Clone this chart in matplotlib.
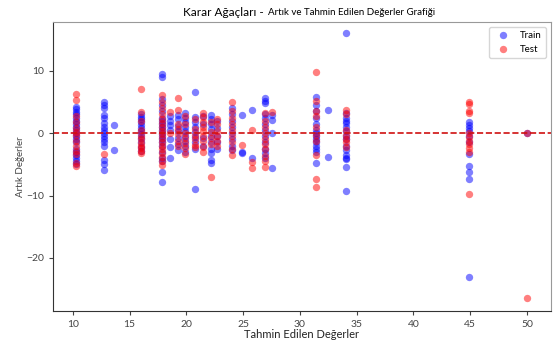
import matplotlib.pyplot as plt

plt.rcParams["font.family"] = ["Lato", "DejaVu Sans"]

# predicted value levels (x) and residuals at each level
train_levels = [10.26, 12.73, 13.6, 16.0, 17.84, 18.55, 19.25, 19.87, 20.75,
                21.45, 22.16, 22.7, 24.0, 24.9, 25.8, 26.9, 27.5, 31.4,
                32.47, 34.05, 44.9, 50.0]
train_resid = [
    [4.2, 3.8, 3.4, 3.0, 2.5, 2.0, 1.5, 1.0, 0.5, 0.0, -0.5, -1.0, -1.5, -2.5,
     -3.0, -3.5, -4.0, -4.5, -5.0],
    [5.0, 4.5, 4.0, 2.9, 2.4, 1.6, 1.0, 0.5, 0.0, -0.4, -0.9, -1.4, -2.0, -4.3,
     -5.0, -5.9],
    [1.3, -2.7],
    [3.0, 2.6, 2.2, 1.8, 1.3, 0.8, 0.3, -0.2, -0.8, -1.5, -2.2, -2.9],
    [9.5, 9.0, 5.5, 4.5, 3.5, 2.5, 2.0, 1.5, 1.0, 0.5, 0.0, -0.5, -1.0, -1.5,
     -2.0, -3.0, -4.0, -4.5, -6.3, -7.8],
    [2.7, 2.0, 1.3, 0.5, -1.0, -2.2, -4.0],
    [2.9, 2.2, 1.2, 0.3, -0.8, -1.8, -2.7],
    [3.2, 2.5, 1.8, 1.0, 0.3, -0.4, -1.2, -2.0, -3.0],
    [6.6, 2.6, 1.8, 1.0, 0.2, -0.6, -1.5, -2.5, -9.0],
    [2.8, 1.5, -0.8, -2.0],
    [2.9, 2.2, 1.5, 0.7, -0.5, -1.5, -2.5, -3.2, -4.3, -4.8],
    [2.0, 0.8, -0.5, -1.5, -2.5],
    [4.0, 3.0, 2.0, 1.0, 0.0, -1.0, -2.0, -2.7],
    [2.9, -3.0, -3.2],
    [3.7, -4.0],
    [5.6, 5.1, 4.8, 3.0, 2.4, 1.5, 0.5, -0.5, -1.5, -2.5, -3.2, -4.0],
    [2.9, 2.1, 0.0, -5.6],
    [5.8, 4.5, 3.5, 2.5, 1.5, 0.5, 0.0, -0.5, -1.0, -1.5, -2.0, -2.5, -3.0,
     -4.8],
    [3.7, -3.9],
    [16.0, 3.3, 2.5, 2.0, 1.6, 1.0, 0.3, -0.5, -1.0, -2.0, -2.7, -3.5, -4.0,
     -4.2, -5.4, -9.2],
    [1.8, 1.3, 0.8, 0.4, -0.5, -1.5, -3.3, -5.2, -6.3, -7.4, -23.0],
    [0.0],
]

test_levels = [10.26, 12.73, 16.0, 17.84, 18.55, 19.25, 19.87, 20.75, 21.45,
               22.16, 22.7, 24.0, 24.9, 25.8, 26.9, 27.5, 31.4, 34.05, 44.9,
               50.0]
test_resid = [
    [6.3, 5.3, 2.8, 1.8, 0.8, 0.2, -0.3, -1.2, -2.0, -2.8, -3.3, -4.8, -5.3],
    [-3.4],
    [7.1, 3.4, 2.0, 0.5, -0.5, -1.0, -1.6, -2.0, -2.4, -2.8, -3.2],
    [6.1, 5.0, 4.0, 3.0, 2.2, 1.6, 1.0, 0.4, -0.2, -0.8, -1.4, -2.0, -2.6,
     -3.2, -3.8, -4.4, -5.1],
    [3.4, 0.0],
    [5.6, 3.7, 1.5, 0.7, -0.2, -1.2, -2.0],
    [2.8, 1.4, 0.0, -0.8, -1.6, -2.4, -3.3],
    [2.2, 0.6, -0.3, -1.0, -1.9, -2.2],
    [3.2, 2.6, 1.8, 1.0, 0.3, -0.5, -1.3, -2.2, -3.0],
    [1.8, 0.2, -0.8, -1.8, -7.0],
    [2.3, 1.4, 0.4, -0.4, -1.2, -2.0],
    [5.0, 3.5, 2.5, 1.5, 0.5, -0.5, -1.5, -2.5, -3.5],
    [-1.9],
    [0.5, -4.6, -5.6],
    [3.2, 2.0, 1.0, 0.0, -1.0, -1.8, -2.6, -3.6, -4.5, -5.4],
    [3.4],
    [9.8, 5.2, 3.5, 2.8, 1.0, -0.3, -1.2, -3.5, -7.4, -8.6],
    [3.7, 3.0, 0.5, -0.3, -1.0, -1.5, -2.2],
    [5.0, 4.7, 3.6, 3.2, 0.0, -0.6, -1.2, -1.8, -2.4, -3.0, -9.8],
    [0.0, -26.4],
]


def expand(levels, resid):
    xs, ys = [], []
    for lv, rs in zip(levels, resid):
        xs += [lv] * len(rs)
        ys += rs
    return xs, ys


train_x, train_y = expand(train_levels, train_resid)
test_x, test_y = expand(test_levels, test_resid)

fig = plt.figure(figsize=(5.58, 3.44), dpi=100)
ax = fig.add_axes([0.095, 0.096, 0.892, 0.840])

ax.scatter(train_x, train_y, color="blue", alpha=0.5, s=28, linewidths=0,
           label="Train")
ax.scatter(test_x, test_y, color="red", alpha=0.5, s=28, linewidths=0,
           label="Test")
ax.axhline(0, color="#d01010", linestyle="--", linewidth=1.2)

ax.set_xlim(8.25, 52.1)
ax.set_ylim(-28.5, 17.8)
ax.set_xticks([10, 15, 20, 25, 30, 35, 40, 45, 50])
ax.set_yticks([-20, -10, 0, 10])
ax.tick_params(labelsize=7.5, colors="#444444", length=3)
for side in ["top", "right"]:
    ax.spines[side].set_color("#999999")
for side in ["left", "bottom"]:
    ax.spines[side].set_color("#333333")

ax.set_xlabel("Tahmin Edilen Değerler", fontsize=8, labelpad=0,
              color="#222222")
ax.set_ylabel("Artık Değerler", fontsize=7, color="#444444", labelpad=1)

fig.text(0.473, 0.963, "Karar Ağaçları -", fontsize=8.5, ha="right",
         va="center")
fig.text(0.481, 0.963, "Artık ve Tahmin Edilen Değerler Grafiği", fontsize=7,
         ha="left", va="center")

ax.legend(loc="upper right", fontsize=7, frameon=True)

fig.savefig("out.png", dpi=100)
